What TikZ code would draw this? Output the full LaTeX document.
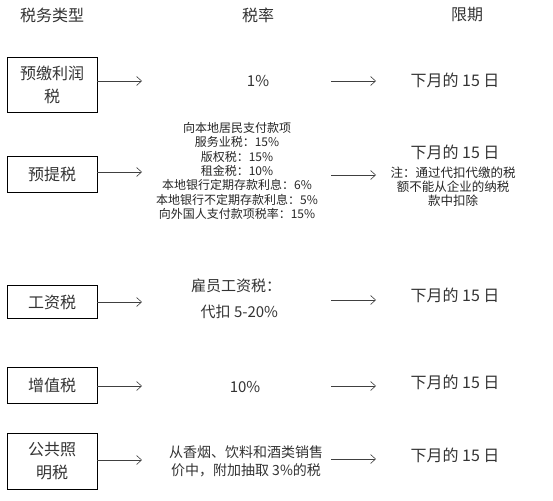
\documentclass[tikz,border=0pt]{standalone}
\usepackage{fontspec}
\setmainfont{Noto Sans CJK SC}
\usepackage{tikz}
\usetikzlibrary{positioning,arrows.meta}

\begin{document}
\begin{tikzpicture}[
    x=1pt, y=-1pt, >={Straight Barb[length=5pt,width=9pt]},
    head/.style={font=\fontsize{16}{18}\selectfont, text=black!80},
    taxbox/.style={draw, line width=0.8pt, minimum width=90pt,
      align=center, inner sep=2pt, text=black!80,
      font=\fontsize{16}{23}\selectfont},
    ratetxt/.style={align=center, text=black!80,
      font=\fontsize{15}{26}\selectfont},
    smalltxt/.style={align=center, text=black!85,
      font=\fontsize{12}{14.3}\selectfont},
    duetxt/.style={text=black!80, font=\fontsize{16}{18}\selectfont},
    arr/.style={->, line width=0.6pt, draw=black!75}
]
\useasboundingbox (0,0) rectangle (553,500);
% column heads
\node[head] (h1) at (52,15)  {税务类型};
\node[head] (h2) at (258,15) {税率};
\node[head] (h3) at (467,15) {限期};
% tax types
\node[taxbox, minimum height=55pt] (b1) at (52,84.5) {预缴利润\\税};
\node[taxbox, minimum height=36pt] (b2) at (52,174)  {预提税};
\node[taxbox, minimum height=33pt] (b3) at (52,302)  {工资税};
\node[taxbox, minimum height=36pt] (b4) at (52,385)  {增值税};
\node[taxbox, minimum height=56pt] (b5) at (52,461)  {公共照\\明税};
% rates
\node[ratetxt] (r1) at (258,81) {1\%};
\node[smalltxt] (r2) at (237,171)
  {向本地居民支付款项\\服务业税：15\%\\版权税：15\%\\租金税：10\%\\
   本地银行定期存款利息：6\%\\本地银行不定期存款利息：5\%\\
   向外国人支付款项税率：15\%};
\node[ratetxt] (r3) at (236,299) {雇员工资税：\\\ \ 代扣 5-20\%};
\node[ratetxt] (r4) at (245,387) {10\%};
\node[ratetxt, font=\fontsize{14}{18}\selectfont] (r5) at (246,461)
  {从香烟、饮料和酒类销售\\价中，附加抽取 3\%的税};
% deadlines
\node[duetxt] (d1) at (455,80)  {下月的 15 日};
\node[duetxt] (d2) at (455,152) {下月的 15 日};
\node[duetxt] (d3) at (455,295) {下月的 15 日};
\node[duetxt] (d4) at (455,382) {下月的 15 日};
\node[duetxt] (d5) at (455,455) {下月的 15 日};
\node[smalltxt, font=\fontsize{12.5}{14}\selectfont] (n2) at (453,187)
  {注：通过代扣代缴的税\\额不能从企业的纳税\\款中扣除};
% arrows
\foreach \i/\ya/\yb in {1/81/81,2/172/175,3/302/300,4/386/386,5/460/459}{
  \coordinate (t\i) at (142,\ya);
  \coordinate (s\i) at (331,\yb);
  \coordinate (e\i) at (376,\yb);
  \draw[arr] (b\i.east |- t\i) -- (t\i);
  \draw[arr] (s\i) -- (e\i);
}
\end{tikzpicture}
\end{document}
